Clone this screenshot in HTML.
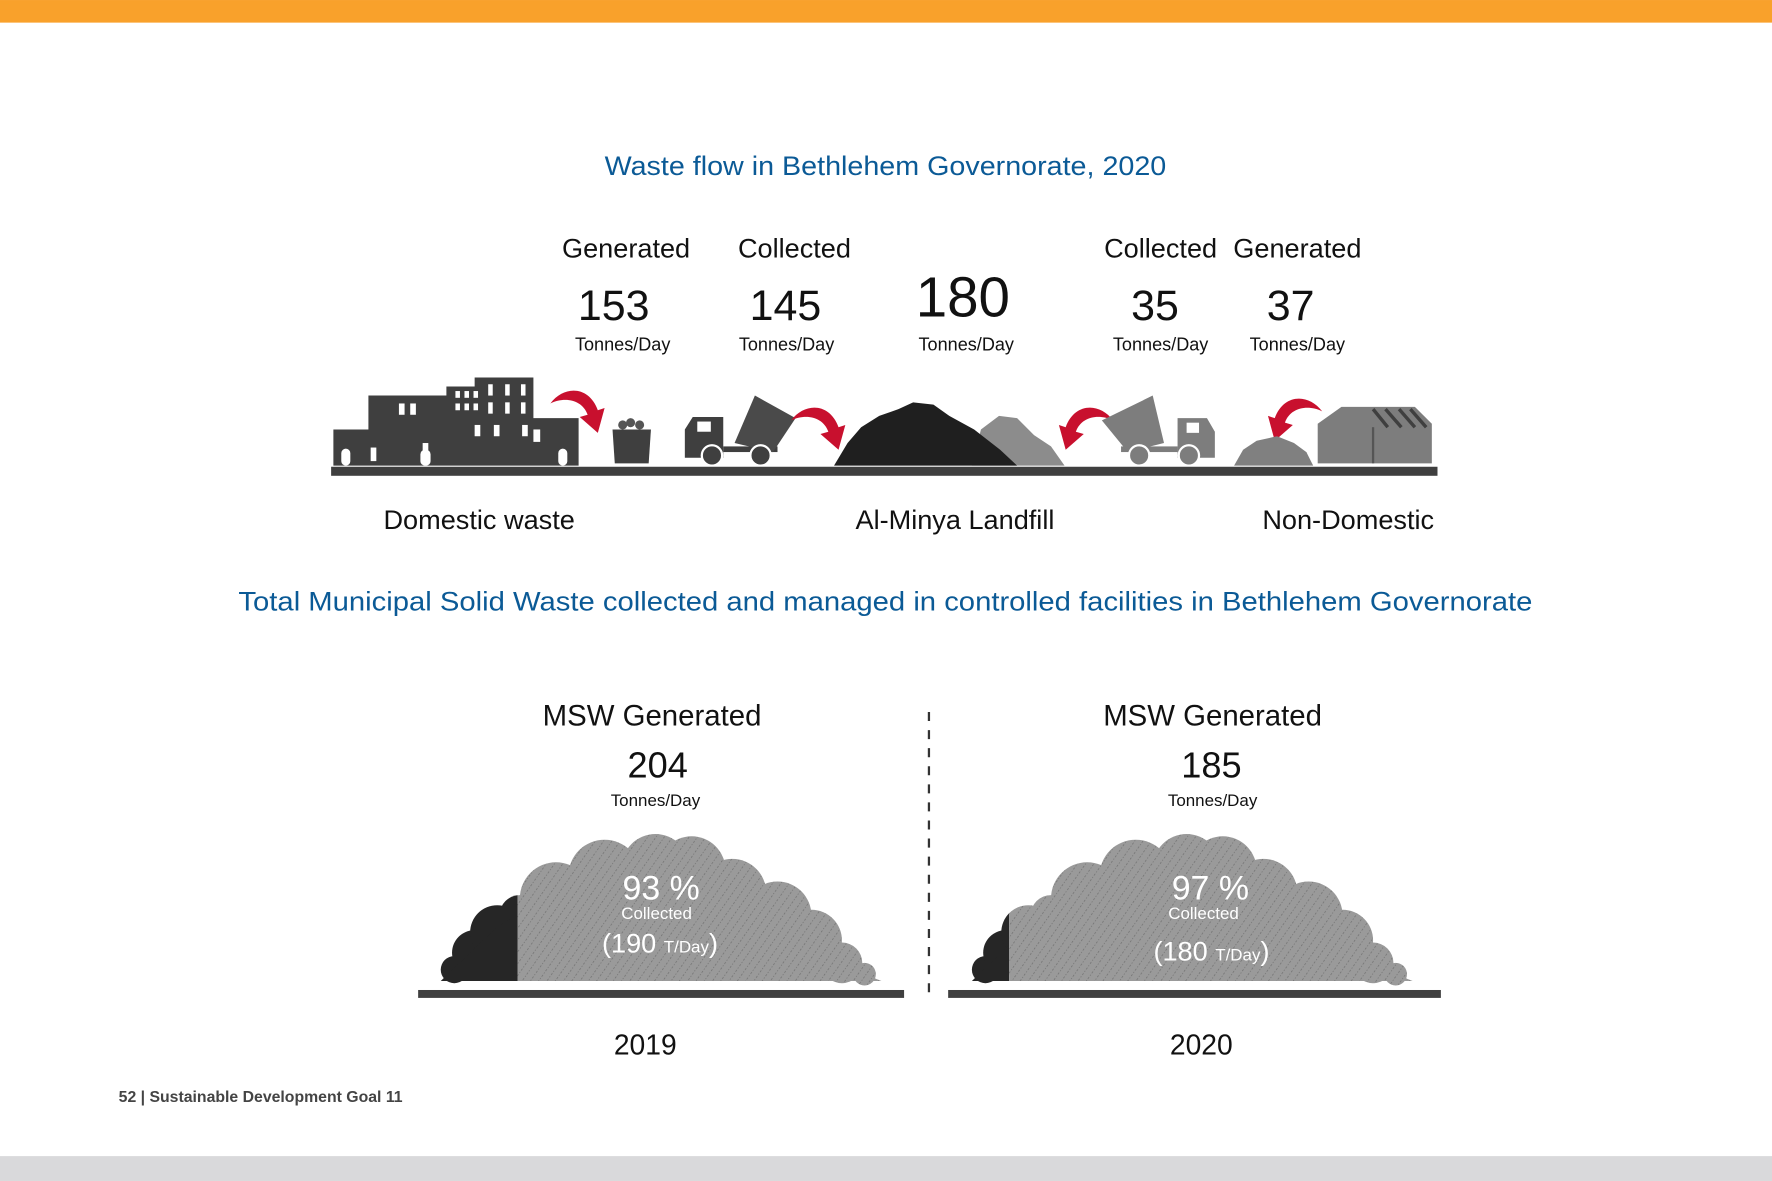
<!DOCTYPE html>
<html><head><meta charset="utf-8"><style>
html,body{margin:0;padding:0;background:#fff;}
svg{display:block;}
text{font-family:"Liberation Sans",sans-serif;}
</style></head><body>
<svg width="1772" height="1181" viewBox="0 0 1568 1045" xmlns="http://www.w3.org/2000/svg">
<defs>
<pattern id="hatch" width="6" height="6" patternUnits="userSpaceOnUse" patternTransform="rotate(35)">
<rect width="6" height="6" fill="#9a9a9a"/>
<line x1="0" y1="0" x2="0" y2="6" stroke="#6e6e6e" stroke-width="1.2" stroke-dasharray="1 1.5"/>
</pattern>
<g id="cloud">
<circle cx="402" cy="858" r="12"/><circle cx="420" cy="843" r="20"/><circle cx="440" cy="825" r="24"/><circle cx="460" cy="810" r="18"/>
<circle cx="492" cy="795" r="32"/><circle cx="535" cy="775" r="32"/><circle cx="580" cy="768" r="30"/><circle cx="612" cy="770" r="30"/>
<circle cx="648" cy="790" r="30"/><circle cx="688" cy="810" r="30"/><circle cx="718" cy="832" r="27"/><circle cx="745" cy="852" r="18"/><circle cx="765" cy="862" r="10"/>
<polygon points="390,868 440,820 492,790 580,765 648,785 718,830 775,866 780,868"/>
<rect x="455" y="800" width="250" height="68"/>
</g>
<clipPath id="clipL1"><rect x="0" y="0" width="458" height="1045"/></clipPath>
<clipPath id="clipR1"><rect x="458" y="0" width="800" height="1045"/></clipPath>
<clipPath id="clipL2"><rect x="0" y="0" width="423" height="1045"/></clipPath>
<clipPath id="clipR2"><rect x="423" y="0" width="800" height="1045"/></clipPath>
<path id="arrow" d="M0,12 C12,-4 34,-4 42,18 L48,16 L42,38 L26,24 L33,22 C28,8 12,6 0,12 Z" fill="#c8102e"/>
</defs>

<rect x="0" y="0" width="1568" height="20" fill="#f9a12b"/>
<rect x="0" y="1023" width="1568" height="22" fill="#d9d9db"/>

<text x="535" y="155" textLength="497" lengthAdjust="spacingAndGlyphs" font-size="24" fill="#0b5a96">Waste flow in Bethlehem Governorate, 2020</text>

<g font-size="24" fill="#111" text-anchor="middle">
<text x="554" y="228">Generated</text><text x="703" y="228">Collected</text>
<text x="1027" y="228">Collected</text><text x="1148" y="228">Generated</text>
</g>
<g font-size="38" fill="#111" text-anchor="middle">
<text x="543" y="283">153</text><text x="695" y="283">145</text>
<text x="852" y="280" font-size="50">180</text>
<text x="1022" y="283">35</text><text x="1142" y="283">37</text>
</g>
<g font-size="16" fill="#111" text-anchor="middle">
<text x="551" y="310">Tonnes/Day</text><text x="696" y="310">Tonnes/Day</text><text x="855" y="310">Tonnes/Day</text>
<text x="1027" y="310">Tonnes/Day</text><text x="1148" y="310">Tonnes/Day</text>
</g>

<g fill="#3f3f3f">
<path d="M295,412 L295,380 L326,380 L326,350 L395,350 L395,342 L420,342 L420,334 L472,334 L472,370 L512,370 L512,412 Z"/>
<g fill="#fff">
<rect x="353" y="357" width="5" height="10"/><rect x="363" y="357" width="5" height="10"/>
<rect x="403" y="346" width="4" height="6"/><rect x="411" y="346" width="4" height="6"/><rect x="419" y="346" width="4" height="6"/>
<rect x="403" y="357" width="4" height="6"/><rect x="411" y="357" width="4" height="6"/><rect x="419" y="357" width="4" height="6"/>
<rect x="432" y="340" width="4" height="10"/><rect x="447" y="340" width="4" height="10"/><rect x="461" y="340" width="4" height="10"/>
<rect x="432" y="356" width="4" height="10"/><rect x="447" y="356" width="4" height="10"/><rect x="461" y="356" width="4" height="10"/>
<rect x="420" y="376" width="5" height="10"/><rect x="437" y="376" width="5" height="10"/><rect x="462" y="376" width="5" height="10"/>
<rect x="374" y="392" width="5" height="12"/><rect x="472" y="380" width="6" height="11"/>
<rect x="328" y="396" width="5" height="12"/><rect x="302" y="397" width="8" height="15" rx="4"/><rect x="372" y="398" width="9" height="14" rx="4"/><rect x="494" y="397" width="8" height="15" rx="4"/>
</g>
</g>
<use href="#arrow" x="487" y="345"/>
<g>
<circle cx="551" cy="376" r="4" fill="#555"/><circle cx="558" cy="374" r="4" fill="#555"/><circle cx="566" cy="376" r="4" fill="#555"/>
<path d="M542,380 L576,380 L574,410 L544,410 Z" fill="#3f3f3f"/>
</g>
<g>
<path d="M606,405 L606,380 L613,369 L640,369 L640,405 Z" fill="#3f3f3f"/><rect x="617" y="373" width="12" height="9" fill="#fff"/>
<rect x="640" y="395" width="48" height="5" fill="#3f3f3f"/>
<path d="M650,392 L668,350 L704,370 L684,400 Z" fill="#4a4a4a"/>
<circle cx="630" cy="403" r="9" fill="#3f3f3f" stroke="#fff" stroke-width="2"/><circle cx="673" cy="403" r="9" fill="#3f3f3f" stroke="#fff" stroke-width="2"/>
</g>
<use href="#arrow" x="700" y="360"/>
<g>
<path d="M860,412 L868,380 L884,368 L900,370 L915,385 L930,395 L942,412 Z" fill="#8c8c8c"/>
<path d="M738,412 L750,392 L762,378 L778,368 L795,362 L808,356 L826,358 L840,368 L862,380 L885,398 L900,412 Z" fill="#1f1f1f"/>
</g>
<use href="#arrow" x="985" y="360" transform="translate(1970,0) scale(-1,1)"/>
<g fill="#7d7d7d">
<path d="M1075,405 L1075,382 L1068,370 L1042,370 L1042,405 Z"/><rect x="1050" y="374" width="11" height="9" fill="#fff"/>
<rect x="992" y="395" width="50" height="5"/>
<path d="M1030,392 L1020,350 L975,372 L998,400 Z"/>
<circle cx="1008" cy="403" r="9" stroke="#fff" stroke-width="2"/><circle cx="1052" cy="403" r="9" stroke="#fff" stroke-width="2"/>
</g>
<use href="#arrow" x="1170" y="352" transform="translate(2340,0) scale(-1,1)"/>
<path d="M1092,412 L1100,398 L1112,390 L1130,386 L1145,392 L1156,400 L1162,412 Z" fill="#808080"/>
<g>
<path d="M1166,410 L1166,375 L1187,360 L1252,360 L1267,375 L1267,410 Z" fill="#7d7d7d"/>
<path d="M1215,362 L1228,378 M1226,362 L1240,378 M1238,362 L1252,378 M1248,362 L1262,378" stroke="#3f3f3f" stroke-width="3"/>
<line x1="1215" y1="378" x2="1215" y2="410" stroke="#555" stroke-width="2"/>
</g>
<rect x="293" y="413" width="979" height="8" fill="#3f3f3f"/>

<g font-size="24" fill="#111" text-anchor="middle">
<text x="424" y="468">Domestic waste</text>
<text x="845" y="468">Al-Minya Landfill</text>
<text x="1193" y="468">Non-Domestic</text>
</g>

<text x="211" y="540" textLength="1145" lengthAdjust="spacingAndGlyphs" font-size="24" fill="#0b5a96">Total Municipal Solid Waste collected and managed in controlled facilities in Bethlehem Governorate</text>

<g>
<text x="577" y="642" text-anchor="middle" font-size="26" fill="#111">MSW Generated</text>
<text x="582" y="688" text-anchor="middle" font-size="32" fill="#111">204</text>
<text x="580" y="713" text-anchor="middle" font-size="15" fill="#111">Tonnes/Day</text>
<g clip-path="url(#clipL1)"><use href="#cloud" fill="#262626"/></g>
<g clip-path="url(#clipR1)"><use href="#cloud" fill="url(#hatch)"/></g>
<text x="585" y="796" text-anchor="middle" font-size="30" fill="#fff">93 %</text>
<text x="581" y="813" text-anchor="middle" font-size="15" fill="#fff">Collected</text>
<text x="584" y="843" text-anchor="middle" font-size="24" fill="#fff">(190 <tspan font-size="15">T/Day</tspan>)</text>
<rect x="370" y="876" width="430" height="7" fill="#3f3f3f"/>
<text x="571" y="933" text-anchor="middle" font-size="25" fill="#111">2019</text>
</g>

<line x1="822" y1="630" x2="822" y2="880" stroke="#333" stroke-width="2" stroke-dasharray="8 8"/>

<g>
<text x="1073" y="642" text-anchor="middle" font-size="26" fill="#111">MSW Generated</text>
<text x="1072" y="688" text-anchor="middle" font-size="32" fill="#111">185</text>
<text x="1073" y="713" text-anchor="middle" font-size="15" fill="#111">Tonnes/Day</text>
<g transform="translate(470,0)">
<g clip-path="url(#clipL2)"><use href="#cloud" fill="#262626"/></g>
<g clip-path="url(#clipR2)"><use href="#cloud" fill="url(#hatch)"/></g>
</g>
<text x="1071" y="796" text-anchor="middle" font-size="30" fill="#fff">97 %</text>
<text x="1065" y="813" text-anchor="middle" font-size="15" fill="#fff">Collected</text>
<text x="1072" y="850" text-anchor="middle" font-size="24" fill="#fff">(180 <tspan font-size="15">T/Day</tspan>)</text>
<rect x="839" y="876" width="436" height="7" fill="#3f3f3f"/>
<text x="1063" y="933" text-anchor="middle" font-size="25" fill="#111">2020</text>
</g>

<text x="105" y="975" font-size="14" font-weight="bold" fill="#444">52 | Sustainable Development Goal 11</text>
</svg>
</body></html>
